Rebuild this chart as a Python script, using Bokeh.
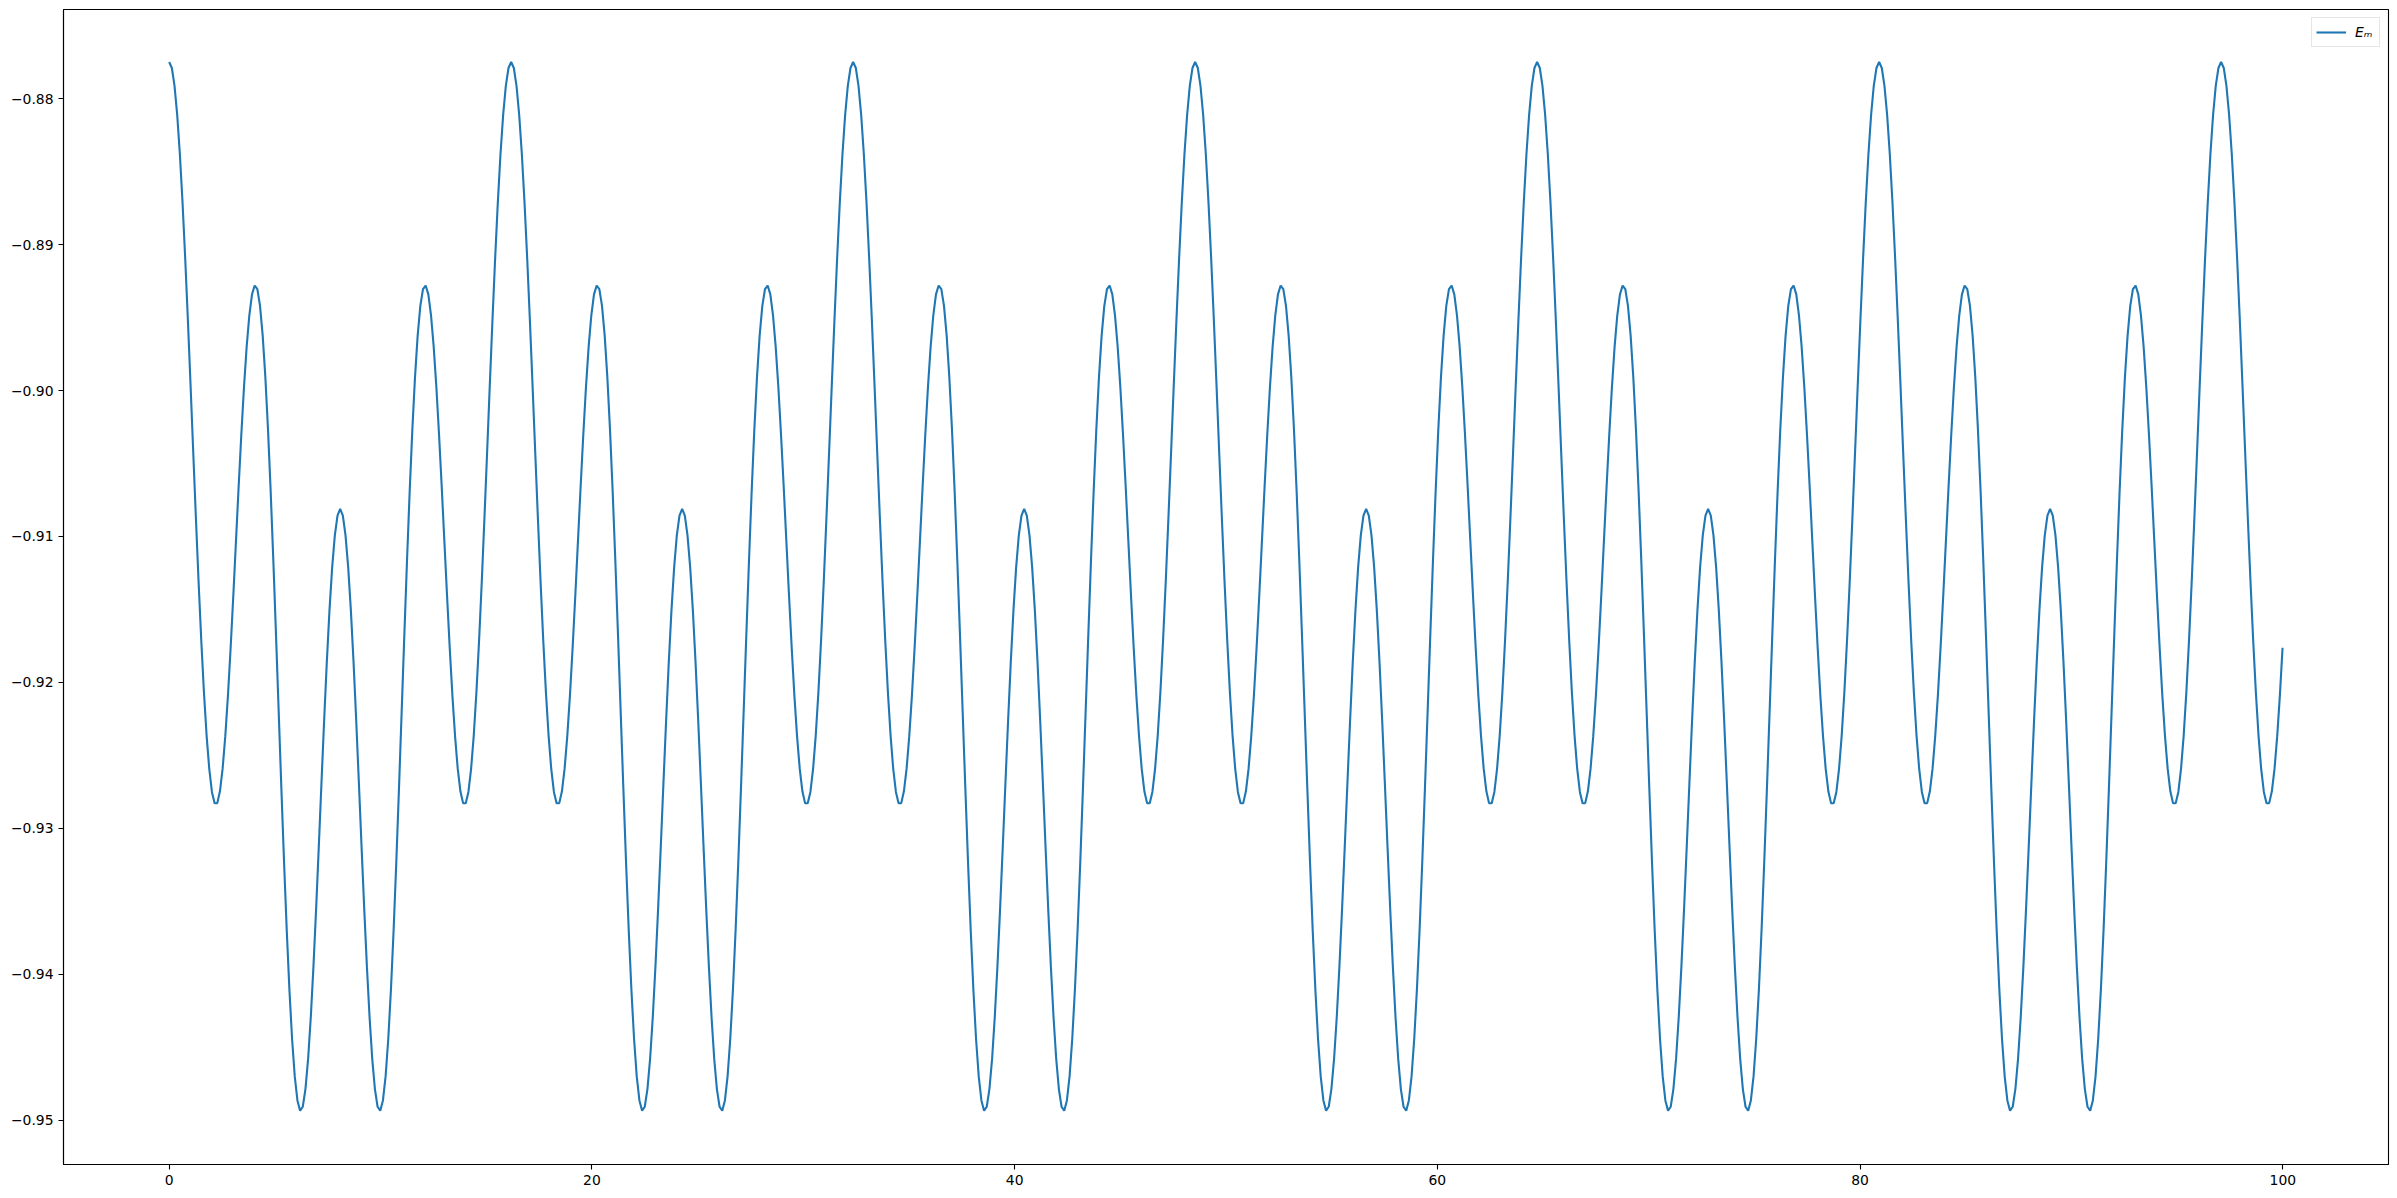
from bokeh.plotting import figure
from bokeh.models import Range1d, FixedTicker, CustomJSTickFormatter, Legend, LegendItem, ColumnDataSource
from bokeh.embed import file_html
from bokeh.resources import INLINE

em = [
    # 1st period
    -0.87748, -0.87789, -0.87911, -0.88110, -0.88380, -0.88712, -0.89095, -0.89516, -0.89963, -0.90421, -0.90874, -0.91309, -0.91710, -0.92065, -0.92363, -0.92594,
    -0.92751, -0.92829, -0.92828, -0.92747, -0.92592, -0.92369, -0.92089, -0.91763, -0.91406, -0.91032, -0.90658, -0.90301, -0.89976, -0.89699, -0.89484, -0.89341,
    -0.89280, -0.89305, -0.89420, -0.89623, -0.89910, -0.90271, -0.90697, -0.91173, -0.91683, -0.92209, -0.92732, -0.93235, -0.93699, -0.94107, -0.94445, -0.94701,
    -0.94866, -0.94936, -0.94909, -0.94788, -0.94581, -0.94296, -0.93947, -0.93551, -0.93125, -0.92688, -0.92260, -0.91860, -0.91505, -0.91212, -0.90993, -0.90857,
    -0.90811, -0.90857, -0.90993, -0.91212, -0.91505, -0.91860, -0.92260, -0.92688, -0.93125, -0.93551, -0.93947, -0.94296, -0.94581, -0.94788, -0.94909, -0.94936,
    -0.94866, -0.94701, -0.94445, -0.94107, -0.93699, -0.93235, -0.92732, -0.92209, -0.91683, -0.91173, -0.90697, -0.90271, -0.89910, -0.89623, -0.89420, -0.89305,
    -0.89280, -0.89341, -0.89484, -0.89699, -0.89976, -0.90301, -0.90658, -0.91032, -0.91406, -0.91763, -0.92089, -0.92369, -0.92592, -0.92747, -0.92828, -0.92829,
    -0.92751, -0.92594, -0.92363, -0.92065, -0.91710, -0.91309, -0.90874, -0.90421, -0.89963, -0.89516, -0.89095, -0.88712, -0.88380, -0.88110, -0.87911, -0.87789,
    # 2nd period
    -0.87748, -0.87789, -0.87911, -0.88110, -0.88380, -0.88712, -0.89095, -0.89516, -0.89963, -0.90421, -0.90874, -0.91309, -0.91710, -0.92065, -0.92363, -0.92594,
    -0.92751, -0.92829, -0.92828, -0.92747, -0.92592, -0.92369, -0.92089, -0.91763, -0.91406, -0.91032, -0.90658, -0.90301, -0.89976, -0.89699, -0.89484, -0.89341,
    -0.89280, -0.89305, -0.89420, -0.89623, -0.89910, -0.90271, -0.90697, -0.91173, -0.91683, -0.92209, -0.92732, -0.93235, -0.93699, -0.94107, -0.94445, -0.94701,
    -0.94866, -0.94936, -0.94909, -0.94788, -0.94581, -0.94296, -0.93947, -0.93551, -0.93125, -0.92688, -0.92260, -0.91860, -0.91505, -0.91212, -0.90993, -0.90857,
    -0.90811, -0.90857, -0.90993, -0.91212, -0.91505, -0.91860, -0.92260, -0.92688, -0.93125, -0.93551, -0.93947, -0.94296, -0.94581, -0.94788, -0.94909, -0.94936,
    -0.94866, -0.94701, -0.94445, -0.94107, -0.93699, -0.93235, -0.92732, -0.92209, -0.91683, -0.91173, -0.90697, -0.90271, -0.89910, -0.89623, -0.89420, -0.89305,
    -0.89280, -0.89341, -0.89484, -0.89699, -0.89976, -0.90301, -0.90658, -0.91032, -0.91406, -0.91763, -0.92089, -0.92369, -0.92592, -0.92747, -0.92828, -0.92829,
    -0.92751, -0.92594, -0.92363, -0.92065, -0.91710, -0.91309, -0.90874, -0.90421, -0.89963, -0.89516, -0.89095, -0.88712, -0.88380, -0.88110, -0.87911, -0.87789,
    # 3rd period
    -0.87748, -0.87789, -0.87911, -0.88110, -0.88380, -0.88712, -0.89095, -0.89516, -0.89963, -0.90421, -0.90874, -0.91309, -0.91710, -0.92065, -0.92363, -0.92594,
    -0.92751, -0.92829, -0.92828, -0.92747, -0.92592, -0.92369, -0.92089, -0.91763, -0.91406, -0.91032, -0.90658, -0.90301, -0.89976, -0.89699, -0.89484, -0.89341,
    -0.89280, -0.89305, -0.89420, -0.89623, -0.89910, -0.90271, -0.90697, -0.91173, -0.91683, -0.92209, -0.92732, -0.93235, -0.93699, -0.94107, -0.94445, -0.94701,
    -0.94866, -0.94936, -0.94909, -0.94788, -0.94581, -0.94296, -0.93947, -0.93551, -0.93125, -0.92688, -0.92260, -0.91860, -0.91505, -0.91212, -0.90993, -0.90857,
    -0.90811, -0.90857, -0.90993, -0.91212, -0.91505, -0.91860, -0.92260, -0.92688, -0.93125, -0.93551, -0.93947, -0.94296, -0.94581, -0.94788, -0.94909, -0.94936,
    -0.94866, -0.94701, -0.94445, -0.94107, -0.93699, -0.93235, -0.92732, -0.92209, -0.91683, -0.91173, -0.90697, -0.90271, -0.89910, -0.89623, -0.89420, -0.89305,
    -0.89280, -0.89341, -0.89484, -0.89699, -0.89976, -0.90301, -0.90658, -0.91032, -0.91406, -0.91763, -0.92089, -0.92369, -0.92592, -0.92747, -0.92828, -0.92829,
    -0.92751, -0.92594, -0.92363, -0.92065, -0.91710, -0.91309, -0.90874, -0.90421, -0.89963, -0.89516, -0.89095, -0.88712, -0.88380, -0.88110, -0.87911, -0.87789,
    # 4th period
    -0.87748, -0.87789, -0.87911, -0.88110, -0.88380, -0.88712, -0.89095, -0.89516, -0.89963, -0.90421, -0.90874, -0.91309, -0.91710, -0.92065, -0.92363, -0.92594,
    -0.92751, -0.92829, -0.92828, -0.92747, -0.92592, -0.92369, -0.92089, -0.91763, -0.91406, -0.91032, -0.90658, -0.90301, -0.89976, -0.89699, -0.89484, -0.89341,
    -0.89280, -0.89305, -0.89420, -0.89623, -0.89910, -0.90271, -0.90697, -0.91173, -0.91683, -0.92209, -0.92732, -0.93235, -0.93699, -0.94107, -0.94445, -0.94701,
    -0.94866, -0.94936, -0.94909, -0.94788, -0.94581, -0.94296, -0.93947, -0.93551, -0.93125, -0.92688, -0.92260, -0.91860, -0.91505, -0.91212, -0.90993, -0.90857,
    -0.90811, -0.90857, -0.90993, -0.91212, -0.91505, -0.91860, -0.92260, -0.92688, -0.93125, -0.93551, -0.93947, -0.94296, -0.94581, -0.94788, -0.94909, -0.94936,
    -0.94866, -0.94701, -0.94445, -0.94107, -0.93699, -0.93235, -0.92732, -0.92209, -0.91683, -0.91173, -0.90697, -0.90271, -0.89910, -0.89623, -0.89420, -0.89305,
    -0.89280, -0.89341, -0.89484, -0.89699, -0.89976, -0.90301, -0.90658, -0.91032, -0.91406, -0.91763, -0.92089, -0.92369, -0.92592, -0.92747, -0.92828, -0.92829,
    -0.92751, -0.92594, -0.92363, -0.92065, -0.91710, -0.91309, -0.90874, -0.90421, -0.89963, -0.89516, -0.89095, -0.88712, -0.88380, -0.88110, -0.87911, -0.87789,
    # 5th period
    -0.87748, -0.87789, -0.87911, -0.88110, -0.88380, -0.88712, -0.89095, -0.89516, -0.89963, -0.90421, -0.90874, -0.91309, -0.91710, -0.92065, -0.92363, -0.92594,
    -0.92751, -0.92829, -0.92828, -0.92747, -0.92592, -0.92369, -0.92089, -0.91763, -0.91406, -0.91032, -0.90658, -0.90301, -0.89976, -0.89699, -0.89484, -0.89341,
    -0.89280, -0.89305, -0.89420, -0.89623, -0.89910, -0.90271, -0.90697, -0.91173, -0.91683, -0.92209, -0.92732, -0.93235, -0.93699, -0.94107, -0.94445, -0.94701,
    -0.94866, -0.94936, -0.94909, -0.94788, -0.94581, -0.94296, -0.93947, -0.93551, -0.93125, -0.92688, -0.92260, -0.91860, -0.91505, -0.91212, -0.90993, -0.90857,
    -0.90811, -0.90857, -0.90993, -0.91212, -0.91505, -0.91860, -0.92260, -0.92688, -0.93125, -0.93551, -0.93947, -0.94296, -0.94581, -0.94788, -0.94909, -0.94936,
    -0.94866, -0.94701, -0.94445, -0.94107, -0.93699, -0.93235, -0.92732, -0.92209, -0.91683, -0.91173, -0.90697, -0.90271, -0.89910, -0.89623, -0.89420, -0.89305,
    -0.89280, -0.89341, -0.89484, -0.89699, -0.89976, -0.90301, -0.90658, -0.91032, -0.91406, -0.91763, -0.92089, -0.92369, -0.92592, -0.92747, -0.92828, -0.92829,
    -0.92751, -0.92594, -0.92363, -0.92065, -0.91710, -0.91309, -0.90874, -0.90421, -0.89963, -0.89516, -0.89095, -0.88712, -0.88380, -0.88110, -0.87911, -0.87789,
    # 6th period
    -0.87748, -0.87789, -0.87911, -0.88110, -0.88380, -0.88712, -0.89095, -0.89516, -0.89963, -0.90421, -0.90874, -0.91309, -0.91710, -0.92065, -0.92363, -0.92594,
    -0.92751, -0.92829, -0.92828, -0.92747, -0.92592, -0.92369, -0.92089, -0.91763, -0.91406, -0.91032, -0.90658, -0.90301, -0.89976, -0.89699, -0.89484, -0.89341,
    -0.89280, -0.89305, -0.89420, -0.89623, -0.89910, -0.90271, -0.90697, -0.91173, -0.91683, -0.92209, -0.92732, -0.93235, -0.93699, -0.94107, -0.94445, -0.94701,
    -0.94866, -0.94936, -0.94909, -0.94788, -0.94581, -0.94296, -0.93947, -0.93551, -0.93125, -0.92688, -0.92260, -0.91860, -0.91505, -0.91212, -0.90993, -0.90857,
    -0.90811, -0.90857, -0.90993, -0.91212, -0.91505, -0.91860, -0.92260, -0.92688, -0.93125, -0.93551, -0.93947, -0.94296, -0.94581, -0.94788, -0.94909, -0.94936,
    -0.94866, -0.94701, -0.94445, -0.94107, -0.93699, -0.93235, -0.92732, -0.92209, -0.91683, -0.91173, -0.90697, -0.90271, -0.89910, -0.89623, -0.89420, -0.89305,
    -0.89280, -0.89341, -0.89484, -0.89699, -0.89976, -0.90301, -0.90658, -0.91032, -0.91406, -0.91763, -0.92089, -0.92369, -0.92592, -0.92747, -0.92828, -0.92829,
    -0.92751, -0.92594, -0.92363, -0.92065, -0.91710, -0.91309, -0.90874, -0.90421, -0.89963, -0.89516, -0.89095, -0.88712, -0.88380, -0.88110, -0.87911, -0.87789,
    # last partial period
    -0.87748, -0.87789, -0.87911, -0.88110, -0.88380, -0.88712, -0.89095, -0.89516, -0.89963, -0.90421, -0.90874, -0.91309, -0.91710, -0.92065, -0.92363, -0.92594,
    -0.92751, -0.92829, -0.92828, -0.92747, -0.92592, -0.92369, -0.92089, -0.91763,
]
t_step = 0.12640625
t = [i * t_step for i in range(len(em))]

x_ticks = [0, 20, 40, 60, 80, 100]
y_ticks = [-0.95, -0.94, -0.93, -0.92, -0.91, -0.90, -0.89, -0.88]
legend_label = "E\u2098"

source = ColumnDataSource(data=dict(t=t, em=em))

p = figure(
    width=2397, height=1198,
    output_backend="svg", toolbar_location=None, title=None,
    x_range=Range1d(-5, 105), y_range=Range1d(-0.95305, -0.87388),
    min_border_left=63, min_border_right=9, min_border_top=9, min_border_bottom=34,
)
p.grid.visible = False
p.outline_line_color = "black"
p.outline_line_width = 1.1
p.outline_line_alpha = 1.0

r = p.line("t", "em", source=source, line_color="#1f77b4", line_width=2.1)

p.xaxis.ticker = FixedTicker(ticks=x_ticks)
p.yaxis.ticker = FixedTicker(ticks=y_ticks)
p.yaxis.formatter = CustomJSTickFormatter(code="return tick.toFixed(2).replace('-', '\u2212');")
for ax in (p.xaxis, p.yaxis):
    ax.axis_line_color = "black"
    ax.axis_line_width = 1.1
    ax.major_tick_line_color = "black"
    ax.major_tick_line_width = 1.1
    ax.major_tick_out = 5
    ax.major_tick_in = 0
    ax.minor_tick_line_color = None
    ax.major_label_text_font = "DejaVu Sans"
    ax.major_label_text_font_size = "13.9px"
    ax.major_label_text_color = "black"
    ax.major_label_standoff = 5

legend = Legend(items=[LegendItem(label=legend_label, renderers=[r])], location="top_right")
legend.margin = 8
legend.padding = 4
legend.spacing = 0
legend.glyph_width = 30
legend.glyph_height = 20
legend.label_height = 20
legend.label_standoff = 9
legend.label_text_font = "DejaVu Sans"
legend.label_text_font_size = "13.9px"
legend.label_text_font_style = "italic"
legend.label_text_color = "black"
legend.border_line_color = "#cccccc"
legend.border_line_width = 1
legend.background_fill_color = "white"
legend.background_fill_alpha = 0.8
p.add_layout(legend)

open("out.html", "w").write(file_html(p, INLINE))
